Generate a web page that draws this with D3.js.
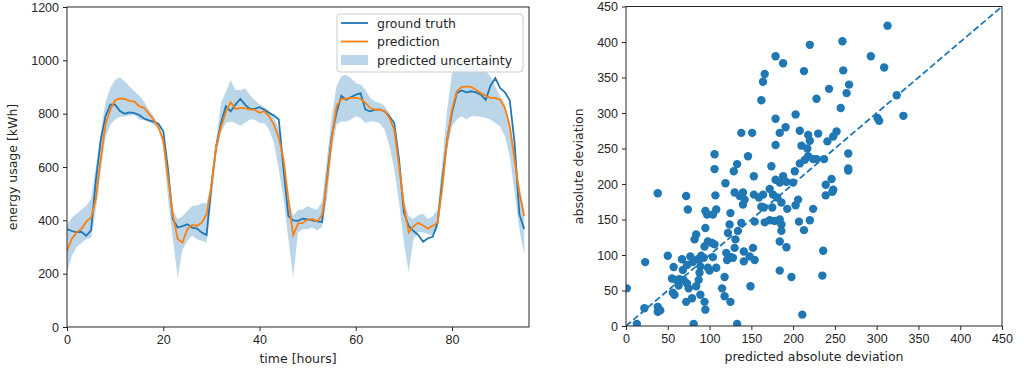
<!DOCTYPE html>
<html>
<head>
<meta charset="utf-8">
<script src="https://cdn.jsdelivr.net/npm/d3@7"></script>
<style>
  body { margin: 0; background: #fff; }
  svg { font-family: "DejaVu Sans", sans-serif; }
  .tick text { font-size: 12.5px; fill: #262626; }
  .tick line { stroke: #262626; }
  .domain { display: none; }
</style>
</head>
<body>
<div class="chart"></div>
<script>
// hourly energy usage, 96 hours
const groundTruth = [367, 360, 355, 357, 342, 362, 550, 700, 790, 834, 834, 810, 800, 805, 802, 795, 782, 775, 770, 762,
  734, 590, 404, 373, 378, 385, 373, 369, 354, 345, 530, 678, 765, 828, 809, 834, 855, 834, 818, 818,
  824, 815, 803, 793, 778, 591, 416, 400, 398, 406, 404, 400, 396, 394, 555, 715, 803, 867, 852, 862,
  871, 877, 815, 809, 815, 815, 809, 790, 765, 628, 430, 379, 360, 345, 320, 333, 338, 391, 555, 703,
  803, 877, 887, 880, 884, 880, 871, 852, 905, 933, 896, 880, 850, 691, 423, 367]
const prediction = [285, 330, 355, 368, 395, 410, 480, 630, 760, 815, 850, 857, 855, 848, 845, 828, 822, 800, 778, 750,
  700, 560, 420, 330, 317, 367, 383, 379, 391, 423, 530, 678, 750, 805, 843, 818, 821, 821, 815, 815,
  803, 809, 790, 759, 710, 628, 480, 345, 388, 390, 403, 404, 396, 420, 541, 703, 828, 855, 856, 859,
  859, 856, 840, 821, 815, 815, 809, 784, 740, 603, 454, 355, 378, 391, 381, 369, 380, 391, 530, 703,
  815, 884, 900, 902, 900, 890, 877, 867, 859, 859, 852, 821, 753, 628, 504, 416]
const upperBound = [385, 410, 425, 441, 455, 480, 600, 730, 845, 896, 927, 937, 921, 902, 884, 867, 846, 815, 790, 753,
  703, 591, 440, 404, 416, 435, 454, 456, 464, 464, 540, 700, 840, 880, 925, 890, 888, 895, 870, 850,
  835, 825, 810, 790, 740, 640, 479, 416, 440, 441, 454, 445, 440, 470, 628, 790, 902, 940, 946, 933,
  915, 909, 890, 859, 846, 840, 828, 803, 750, 640, 479, 416, 405, 420, 425, 405, 416, 440, 620, 815,
  952, 983, 995, 995, 985, 975, 965, 960, 940, 902, 865, 835, 770, 660, 529, 441]
const lowerBound = [205, 267, 300, 315, 329, 335, 440, 580, 710, 759, 778, 788, 790, 793, 796, 778, 775, 771, 759, 740,
  678, 479, 329, 186, 290, 323, 342, 329, 323, 317, 466, 641, 728, 765, 771, 765, 755, 765, 778, 778,
  765, 765, 740, 690, 591, 479, 329, 185, 355, 367, 367, 373, 362, 375, 479, 653, 759, 771, 771, 778,
  790, 784, 765, 771, 771, 763, 740, 678, 591, 466, 317, 205, 330, 355, 355, 348, 345, 366, 490, 666,
  753, 778, 790, 778, 790, 790, 788, 784, 778, 765, 753, 715, 641, 504, 367, 270]

// scatter: predicted absolute deviation vs absolute deviation
const predictedDeviation = [179, 166, 164, 162, 179, 138, 151, 179, 146, 174, 153, 179, 106, 106, 133, 129, 119, 172,
  313, 220, 259, 188, 213, 260, 293, 309, 267, 243, 264, 228, 324, 257, 203, 301, 303, 332, 191, 208, 184,
  218, 230, 220, 252, 248, 241, 210, 217, 266, 218, 208, 214, 224, 228, 237, 266, 266, 202, 188, 200, 192, 184, 246, 239, 248,
  247, 239, 186, 203, 206, 193, 224, 207, 220, 213, 186, 186, 184, 192, 184, 198, 236, 235, 211,
  1, 13, 22, 23, 38, 38, 38, 41, 50, 57, 55, 60, 63, 58, 56, 64, 69, 68, 73, 75, 72, 79, 81, 84, 89, 95, 94,
  72, 74, 67, 73, 77, 80, 82, 84, 86, 89, 90, 93, 95, 97, 95, 98, 94, 103, 106, 107, 108, 98, 108, 104, 87, 88, 100,
  125, 124, 122, 120, 121, 126, 128, 118, 115, 118, 125, 133, 131, 134, 138, 130, 136, 140, 142, 140, 130, 141, 148, 154, 141, 149,
  153, 164, 159, 162, 176, 175, 181, 154, 166, 172, 178, 165, 152, 104, 184]
const absoluteDeviation = [380, 355, 344, 318, 292, 272, 272, 255, 239, 225, 211, 206, 242, 221, 228, 218, 201, 193,
  423, 396, 401, 370, 359, 360, 380, 364, 340, 334, 328, 320, 325, 307, 298, 293, 289, 296, 280, 275, 272,
  269, 271, 261, 274, 267, 260, 254, 250, 243, 239, 229, 234, 235, 235, 235, 222, 219, 218, 211, 202, 203, 202, 207, 199, 192,
  189, 184, 174, 170, 178, 165, 165, 147, 149, 135, 143, 134, 119, 111, 78, 69, 106, 71, 16,
  53, 3, 25, 90, 187, 27, 20, 22, 99, 83, 67, 65, 57, 44, 47, 66, 65, 79, 60, 53, 34, 39, 3, 56, 44, 23, 34,
  183, 164, 94, 86, 98, 90, 122, 129, 94, 84, 99, 96, 162, 157, 138, 119, 112, 117, 115, 184, 164, 82, 82, 97, 65, 75, 78,
  159, 143, 131, 103, 93, 97, 96, 69, 53, 42, 34, 3, 122, 134, 145, 188, 183, 188, 178, 171, 110, 105, 98, 93, 91, 56,
  185, 185, 181, 168, 185, 167, 181, 147, 146, 149, 148, 167, 110, 157, 150]

const energyTicks = [0, 200, 400, 600, 800, 1000, 1200]
const hourTicks = [0, 20, 40, 60, 80]
const deviationTicks = [0, 50, 100, 150, 200, 250, 300, 350, 400, 450]

const blue = '#1f77b4'
const orange = '#ff7f0e'
const ink = '#262626'
const plain = d3.format('d')

const svg = d3.select('.chart')
  .append('svg')
  .attr('width', 1024)
  .attr('height', 370)

// ---------- left: time series ----------
const L = { left: 67, right: 529, top: 7, bottom: 327 }
const xTime = d3.scaleLinear().domain([0, 96]).range([L.left, L.right])
const yEnergy = d3.scaleLinear().domain([0, 1200]).range([L.bottom, L.top])

svg.append('clipPath').attr('id', 'clip-left')
  .append('rect')
  .attr('x', L.left).attr('y', L.top)
  .attr('width', L.right - L.left).attr('height', L.bottom - L.top)

const leftPlot = svg.append('g').attr('clip-path', 'url(#clip-left)')

const band = d3.area()
  .x((d, i) => xTime(i))
  .y0((d, i) => yEnergy(lowerBound[i]))
  .y1(d => yEnergy(d))

leftPlot.append('path')
  .datum(upperBound)
  .attr('d', band)
  .attr('fill', blue)
  .attr('fill-opacity', 0.3)

const line = d3.line()
  .x((d, i) => xTime(i))
  .y(d => yEnergy(d))

leftPlot.append('path')
  .datum(groundTruth)
  .attr('d', line)
  .attr('fill', 'none')
  .attr('stroke', blue)
  .attr('stroke-width', 1.8)

leftPlot.append('path')
  .datum(prediction)
  .attr('d', line)
  .attr('fill', 'none')
  .attr('stroke', orange)
  .attr('stroke-width', 1.8)

svg.append('g')
  .attr('transform', `translate(0, ${L.bottom})`)
  .call(d3.axisBottom(xTime).tickValues(hourTicks).tickFormat(plain).tickSize(4).tickPadding(4))

svg.append('g')
  .attr('transform', `translate(${L.left}, 0)`)
  .call(d3.axisLeft(yEnergy).tickValues(energyTicks).tickFormat(plain).tickSize(4).tickPadding(4))

svg.append('rect')
  .attr('x', L.left).attr('y', L.top)
  .attr('width', L.right - L.left).attr('height', L.bottom - L.top)
  .attr('fill', 'none')
  .attr('stroke', ink)
  .attr('stroke-width', 1)

svg.append('text')
  .attr('transform', `translate(12, ${(L.top + L.bottom) / 2}) rotate(-90)`)
  .attr('text-anchor', 'middle')
  .attr('dominant-baseline', 'central')
  .attr('font-size', '12.5px')
  .attr('fill', ink)
  .text('energy usage [kWh]')

svg.append('text')
  .attr('x', (L.left + L.right) / 2)
  .attr('y', 358)
  .attr('text-anchor', 'middle')
  .attr('dominant-baseline', 'central')
  .attr('font-size', '12.5px')
  .attr('fill', ink)
  .text('time [hours]')

// legend
const legend = svg.append('g')
legend.append('rect')
  .attr('x', 337).attr('y', 14)
  .attr('width', 186).attr('height', 58)
  .attr('rx', 3)
  .attr('fill', '#fff')
  .attr('fill-opacity', 0.8)
  .attr('stroke', '#cccccc')

const legendItems = [
  { label: 'ground truth', color: blue, kind: 'line' },
  { label: 'prediction', color: orange, kind: 'line' },
  { label: 'predicted uncertainty', color: blue, kind: 'patch' }
]

legendItems.forEach((item, i) => {
  const y = 23 + i * 18.5
  if (item.kind === 'line') {
    legend.append('line')
      .attr('x1', 341).attr('x2', 368)
      .attr('y1', y).attr('y2', y)
      .attr('stroke', item.color)
      .attr('stroke-width', 1.8)
  } else {
    legend.append('rect')
      .attr('x', 341).attr('y', y - 5)
      .attr('width', 27).attr('height', 10)
      .attr('fill', item.color)
      .attr('fill-opacity', 0.3)
  }
  legend.append('text')
    .attr('x', 377).attr('y', y)
    .attr('dominant-baseline', 'central')
    .attr('font-size', '12.5px')
    .attr('fill', ink)
    .text(item.label)
})

// ---------- right: scatter ----------
const R = { left: 626, right: 1002, top: 6.5, bottom: 326 }
const xDev = d3.scaleLinear().domain([0, 450]).range([R.left, R.right])
const yDev = d3.scaleLinear().domain([0, 450]).range([R.bottom, R.top])

svg.append('clipPath').attr('id', 'clip-right')
  .append('rect')
  .attr('x', R.left).attr('y', R.top)
  .attr('width', R.right - R.left).attr('height', R.bottom - R.top)

const rightPlot = svg.append('g').attr('clip-path', 'url(#clip-right)')

rightPlot.append('g')
  .selectAll('circle')
  .data(predictedDeviation)
  .enter()
  .append('circle')
  .attr('cx', d => xDev(d))
  .attr('cy', (d, i) => yDev(absoluteDeviation[i]))
  .attr('r', 4.2)
  .attr('fill', blue)

rightPlot.append('line')
  .attr('x1', xDev(0)).attr('y1', yDev(0))
  .attr('x2', xDev(450)).attr('y2', yDev(450))
  .attr('stroke', blue)
  .attr('stroke-width', 1.8)
  .attr('stroke-dasharray', '6.5,3')

svg.append('g')
  .attr('transform', `translate(0, ${R.bottom})`)
  .call(d3.axisBottom(xDev).tickValues(deviationTicks).tickFormat(plain).tickSize(4).tickPadding(4))

svg.append('g')
  .attr('transform', `translate(${R.left}, 0)`)
  .call(d3.axisLeft(yDev).tickValues(deviationTicks).tickFormat(plain).tickSize(4).tickPadding(4))

svg.append('rect')
  .attr('x', R.left).attr('y', R.top)
  .attr('width', R.right - R.left).attr('height', R.bottom - R.top)
  .attr('fill', 'none')
  .attr('stroke', ink)
  .attr('stroke-width', 1)

svg.append('text')
  .attr('transform', `translate(578, ${(R.top + R.bottom) / 2}) rotate(-90)`)
  .attr('text-anchor', 'middle')
  .attr('dominant-baseline', 'central')
  .attr('font-size', '12.5px')
  .attr('fill', ink)
  .text('absolute deviation')

svg.append('text')
  .attr('x', (R.left + R.right) / 2)
  .attr('y', 356)
  .attr('text-anchor', 'middle')
  .attr('dominant-baseline', 'central')
  .attr('font-size', '12.5px')
  .attr('fill', ink)
  .text('predicted absolute deviation')
</script>
</body>
</html>
